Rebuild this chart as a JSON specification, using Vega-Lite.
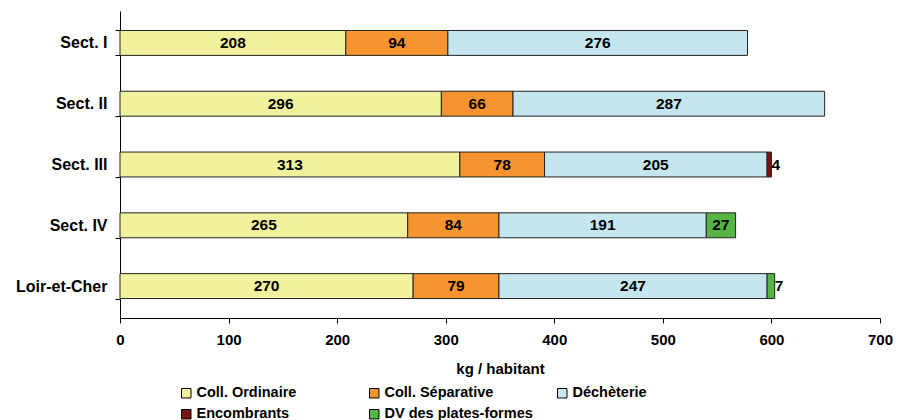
{
  "$schema": "https://vega.github.io/schema/vega-lite/v6.json",
  "width": 760,
  "height": 307,
  "autosize": {"type": "none"},
  "padding": {"left": 120, "top": 11, "right": 25, "bottom": 102},
  "background": "white",
  "config": {
    "view": {"stroke": null},
    "font": "Liberation Sans"
  },
  "data": {
    "values": [
      {"secteur": "Sect. I", "type": "Coll. Ordinaire", "ordre": 1, "valeur": 208},
      {"secteur": "Sect. I", "type": "Coll. Séparative", "ordre": 2, "valeur": 94},
      {"secteur": "Sect. I", "type": "Déchèterie", "ordre": 3, "valeur": 276},
      {"secteur": "Sect. II", "type": "Coll. Ordinaire", "ordre": 1, "valeur": 296},
      {"secteur": "Sect. II", "type": "Coll. Séparative", "ordre": 2, "valeur": 66},
      {"secteur": "Sect. II", "type": "Déchèterie", "ordre": 3, "valeur": 287},
      {"secteur": "Sect. III", "type": "Coll. Ordinaire", "ordre": 1, "valeur": 313},
      {"secteur": "Sect. III", "type": "Coll. Séparative", "ordre": 2, "valeur": 78},
      {"secteur": "Sect. III", "type": "Déchèterie", "ordre": 3, "valeur": 205},
      {"secteur": "Sect. III", "type": "Encombrants", "ordre": 4, "valeur": 4},
      {"secteur": "Sect. IV", "type": "Coll. Ordinaire", "ordre": 1, "valeur": 265},
      {"secteur": "Sect. IV", "type": "Coll. Séparative", "ordre": 2, "valeur": 84},
      {"secteur": "Sect. IV", "type": "Déchèterie", "ordre": 3, "valeur": 191},
      {"secteur": "Sect. IV", "type": "DV des plates-formes", "ordre": 5, "valeur": 27},
      {"secteur": "Loir-et-Cher", "type": "Coll. Ordinaire", "ordre": 1, "valeur": 270},
      {"secteur": "Loir-et-Cher", "type": "Coll. Séparative", "ordre": 2, "valeur": 79},
      {"secteur": "Loir-et-Cher", "type": "Déchèterie", "ordre": 3, "valeur": 247},
      {"secteur": "Loir-et-Cher", "type": "DV des plates-formes", "ordre": 5, "valeur": 7}
    ]
  },
  "encoding": {
    "y": {
      "field": "secteur",
      "type": "nominal",
      "sort": ["Sect. I", "Sect. II", "Sect. III", "Sect. IV", "Loir-et-Cher"],
      "scale": {"paddingInner": 0.59, "paddingOuter": 0.32},
      "axis": {
        "title": null,
        "tickBand": "extent",
        "labelFont": "Liberation Sans",
        "labelFontWeight": "bold",
        "labelFontSize": 16,
        "labelColor": "black",
        "labelPadding": 8,
        "tickSize": 5,
        "tickColor": "black",
        "domainColor": "black",
        "tickWidth": 1,
        "domainWidth": 1
      }
    },
    "x": {
      "field": "valeur",
      "type": "quantitative",
      "stack": "zero",
      "scale": {"domain": [0, 700], "nice": false},
      "axis": {
        "title": "kg / habitant",
        "titleFont": "Liberation Sans",
        "titleFontSize": 15,
        "titleFontWeight": "bold",
        "titleColor": "black",
        "titlePadding": 14,
        "values": [0, 100, 200, 300, 400, 500, 600, 700],
        "labelFont": "Liberation Sans",
        "labelFontWeight": "bold",
        "labelFontSize": 15,
        "labelColor": "black",
        "labelPadding": 9,
        "labelFlush": false,
        "grid": false,
        "tickSize": 5,
        "tickColor": "black",
        "domainColor": "black"
      }
    }
  },
  "layer": [
    {
      "mark": {"type": "bar", "stroke": "#222222", "strokeWidth": 1},
      "encoding": {
        "color": {
          "field": "type",
          "type": "nominal",
          "scale": {
            "domain": ["Coll. Ordinaire", "Coll. Séparative", "Déchèterie", "Encombrants", "DV des plates-formes"],
            "range": ["#F2F29E", "#F79430", "#C5E6EF", "#7A1414", "#56B446"]
          },
          "legend": {
            "title": null,
            "orient": "none",
            "legendX": 59,
            "legendY": 375,
            "direction": "horizontal",
            "columns": 3,
            "gridAlign": "all",
            "columnPadding": 22,
            "rowPadding": 6,
            "symbolType": "square",
            "symbolSize": 90,
            "symbolStrokeColor": "black",
            "symbolStrokeWidth": 1,
            "labelFont": "Liberation Sans",
            "labelFontSize": 14.5,
            "labelFontWeight": "bold",
            "labelColor": "black",
            "labelOffset": 3,
            "labelLimit": 300
          }
        },
        "order": {"field": "ordre", "type": "quantitative"}
      }
    },
    {
      "transform": [{"filter": "datum.valeur >= 10"}],
      "mark": {"type": "text", "font": "Liberation Sans", "fontSize": 15.5, "fontWeight": "bold", "color": "black", "baseline": "middle"},
      "encoding": {
        "x": {"field": "valeur", "type": "quantitative", "stack": "zero", "bandPosition": 0.5},
        "text": {"field": "valeur", "type": "quantitative"},
        "detail": {"field": "type", "type": "nominal"},
        "order": {"field": "ordre", "type": "quantitative"}
      }
    },
    {
      "transform": [
        {"stack": "valeur", "groupby": ["secteur"], "sort": [{"field": "ordre", "order": "ascending"}], "as": ["debut", "fin"]},
        {"filter": "datum.valeur < 10"}
      ],
      "mark": {"type": "text", "font": "Liberation Sans", "fontSize": 15.5, "fontWeight": "bold", "color": "black", "baseline": "middle", "align": "left", "dx": 0},
      "encoding": {
        "x": {"field": "fin", "type": "quantitative"},
        "text": {"field": "valeur", "type": "quantitative"}
      }
    }
  ]
}
